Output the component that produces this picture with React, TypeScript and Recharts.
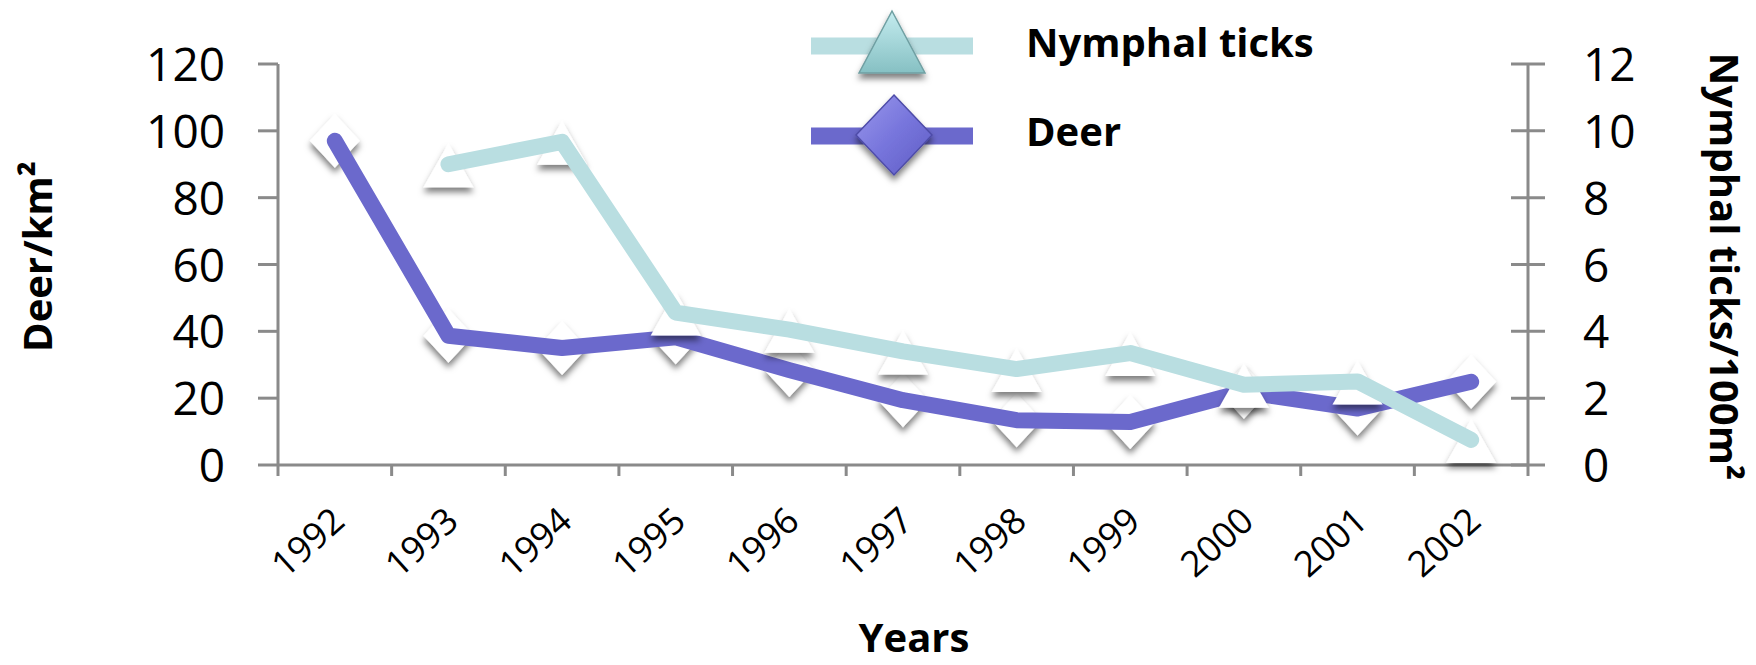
import React from 'react';
import { LineChart, Line, XAxis, YAxis, Label } from 'recharts';

const years = ['1992', '1993', '1994', '1995', '1996', '1997', '1998', '1999', '2000', '2001', '2002'];
const deerPerKm2 = [97, 38.7, 35, 38.2, 28.4, 19.4, 13.4, 12.9, 21.9, 16.9, 24.9];
const nymphsPer100m2 = [null, 9.0, 9.67, 4.56, 4.05, 3.4, 2.87, 3.35, 2.4, 2.5, 0.75];
const deerTicks = [0, 20, 40, 60, 80, 100, 120];
const nymphTicks = [0, 2, 4, 6, 8, 10, 12];
const seriesNames = ['Nymphal ticks', 'Deer'];

const data = years.map((year, i) => ({ year, deer: deerPerKm2[i], nymph: nymphsPer100m2[i] }));

const W = 1756;
const H = 665;
const PLOT_LEFT = 278;
const PLOT_RIGHT = 1528;
const PLOT_TOP = 64;
const PLOT_BOTTOM = 465;
const BAND = (PLOT_RIGHT - PLOT_LEFT) / years.length;

const FONT = "'Open Sans', sans-serif";
const AXIS = '#8a8a8a';
const TEAL = '#b9dee1';
const PURPLE = '#6b69cc';

const ok = (v: any) => v != null && !Number.isNaN(v);

// white markers with a soft drop shadow; they sit under the series lines
const TriangleDot = (props: any) => {
  const { cx, cy, index } = props;
  if (!ok(cx) || !ok(cy)) return <g key={'t' + index} />;
  const pts = `${cx},${cy - 21} ${cx + 25},${cy + 23} ${cx - 25},${cy + 23}`;
  return <polygon key={'t' + index} points={pts} fill="#fff" filter="url(#mkShadow)" />;
};

const DiamondDot = (props: any) => {
  const { cx, cy, index } = props;
  if (!ok(cx) || !ok(cy)) return <g key={'d' + index} />;
  const pts = `${cx},${cy - 27} ${cx + 25},${cy} ${cx},${cy + 27} ${cx - 25},${cy}`;
  return <polygon key={'d' + index} points={pts} fill="#fff" filter="url(#mkShadow)" />;
};

// recharts puts every dot above every curve, so the series path is drawn
// from the dot layer (first dot) using the points the scales produced
const pathDot = (color: string) => (props: any) => {
  const { index, points } = props;
  if (index !== 0 || !points) return <g key={'p' + index} />;
  const d = points
    .filter((p: any) => ok(p.x) && ok(p.y))
    .map((p: any, i: number) => `${i === 0 ? 'M' : 'L'}${p.x},${p.y}`)
    .join(' ');
  return (
    <path key={'p' + index} d={d} fill="none" stroke={color} strokeWidth={16} strokeLinecap="round" strokeLinejoin="round" />
  );
};

const YearTick = (props: any) => {
  const { x, y, payload } = props;
  const left = x - BAND / 2;
  const isLast = payload.value === years[years.length - 1];
  const tx = x + 12;
  const ty = y + 59;
  return (
    <g>
      <line x1={left} x2={left} y1={y} y2={y + 11} stroke={AXIS} strokeWidth={3} />
      {isLast && <line x1={x + BAND / 2} x2={x + BAND / 2} y1={y} y2={y + 11} stroke={AXIS} strokeWidth={3} />}
      <text x={tx} y={ty} transform={`rotate(-42 ${tx} ${ty})`} textAnchor="end" fontSize={36} fontFamily={FONT} fill="#000">
        {payload.value}
      </text>
    </g>
  );
};

const LeftTick = (props: any) => {
  const { x, y, payload } = props;
  return (
    <g>
      <line x1={x - 20} x2={x} y1={y} y2={y} stroke={AXIS} strokeWidth={3} />
      <text x={x - 53} y={y + 17} textAnchor="end" fontSize={46} fontFamily={FONT} fill="#000">
        {payload.value}
      </text>
    </g>
  );
};

const RightTick = (props: any) => {
  const { x, y, payload } = props;
  return (
    <g>
      <line x1={x - 17} x2={x + 17} y1={y} y2={y} stroke={AXIS} strokeWidth={3} />
      <text x={x + 55} y={y + 17} textAnchor="start" fontSize={46} fontFamily={FONT} fill="#000">
        {payload.value}
      </text>
    </g>
  );
};

const Legend = () => {
  const rows = [
    { name: seriesNames[0], color: TEAL, y: 46, textY: 57, shape: 'triangle' },
    { name: seriesNames[1], color: PURPLE, y: 136, textY: 146, shape: 'diamond' },
  ];
  return (
    <svg width={W} height={H} style={{ position: 'absolute', left: 0, top: 0, pointerEvents: 'none' }}>
      <defs>
        <filter id="mkShadow" x="-60%" y="-60%" width="220%" height="220%">
          <feDropShadow dx="0" dy="5" stdDeviation="3" floodColor="#000" floodOpacity="0.5" />
        </filter>
        <linearGradient id="triFill" x1="0" y1="0" x2="0" y2="1">
          <stop offset="0%" stopColor="#c4ecef" />
          <stop offset="100%" stopColor="#86c0c3" />
        </linearGradient>
        <linearGradient id="diaFill" x1="0" y1="0" x2="1" y2="1">
          <stop offset="0%" stopColor="#9a98ec" />
          <stop offset="50%" stopColor="#7775dc" />
          <stop offset="100%" stopColor="#5f5dc4" />
        </linearGradient>
      </defs>
      {rows.map((r) => (
        <g key={r.name}>
          <line x1={811} x2={973} y1={r.y} y2={r.y} stroke={r.color} strokeWidth={17} />
          {r.shape === 'triangle' ? (
            <polygon points="892,11 925,73 859,73" fill="url(#triFill)" stroke="#6f9fa2" strokeWidth={1.5} filter="url(#mkShadow)" />
          ) : (
            <polygon points="894,95 932,135 894,175 856,135" fill="url(#diaFill)" stroke="#4e4ca8" strokeWidth={1.5} filter="url(#mkShadow)" />
          )}
          <text x={1026} y={r.textY} fontSize={40} fontWeight={700} fontFamily={FONT} fill="#000">
            {r.name}
          </text>
        </g>
      ))}
    </svg>
  );
};

export default function App() {
  const midY = (PLOT_TOP + PLOT_BOTTOM) / 2;
  return (
    <div style={{ position: 'absolute', left: 0, top: 0, width: W, height: H, background: '#fff' }}>
      <LineChart
        width={W}
        height={H}
        data={data}
        margin={{ top: PLOT_TOP, right: W - PLOT_RIGHT - 100, bottom: H - PLOT_BOTTOM - 100, left: PLOT_LEFT - 100 }}
      >
        <XAxis
          dataKey="year"
          height={100}
          padding={{ left: BAND / 2, right: BAND / 2 }}
          axisLine={{ stroke: AXIS, strokeWidth: 3 }}
          tickLine={false}
          tickSize={0}
          tickMargin={0}
          interval={0}
          tick={<YearTick />}
        >
          <Label
            content={() => (
              <text x={914} y={652} textAnchor="middle" fontSize={40} fontWeight={700} fontFamily={FONT} fill="#000">
                Years
              </text>
            )}
          />
        </XAxis>
        <YAxis
          yAxisId="deer"
          orientation="left"
          width={100}
          domain={[0, 120]}
          ticks={deerTicks}
          axisLine={{ stroke: AXIS, strokeWidth: 3 }}
          tickLine={false}
          tickSize={0}
          tickMargin={0}
          tick={<LeftTick />}
        >
          <Label
            content={() => (
              <text x={52} y={midY - 8} transform={`rotate(-90 52 ${midY - 8})`} textAnchor="middle" fontSize={40} fontWeight={700} fontFamily={FONT} fill="#000">
                Deer/km²
              </text>
            )}
          />
        </YAxis>
        <YAxis
          yAxisId="nymph"
          orientation="right"
          width={100}
          domain={[0, 12]}
          ticks={nymphTicks}
          axisLine={{ stroke: AXIS, strokeWidth: 3 }}
          tickLine={false}
          tickSize={0}
          tickMargin={0}
          tick={<RightTick />}
        >
          <Label
            content={() => (
              <text x={1710} y={midY + 2} transform={`rotate(90 1710 ${midY + 2})`} textAnchor="middle" fontSize={40} fontWeight={700} fontFamily={FONT} fill="#000">
                Nymphal ticks/100m²
              </text>
            )}
          />
        </YAxis>
        <Line yAxisId="deer" dataKey="deer" stroke="none" dot={DiamondDot} activeDot={false} isAnimationActive={false} />
        <Line
          yAxisId="deer"
          dataKey="deer"
          name={seriesNames[1]}
          stroke="none"
          dot={pathDot(PURPLE)}
          activeDot={false}
          isAnimationActive={false}
        />
        <Line yAxisId="nymph" dataKey="nymph" stroke="none" dot={TriangleDot} activeDot={false} isAnimationActive={false} />
        <Line
          yAxisId="nymph"
          dataKey="nymph"
          name={seriesNames[0]}
          stroke="none"
          dot={pathDot(TEAL)}
          activeDot={false}
          isAnimationActive={false}
        />
      </LineChart>
      <Legend />
    </div>
  );
}
